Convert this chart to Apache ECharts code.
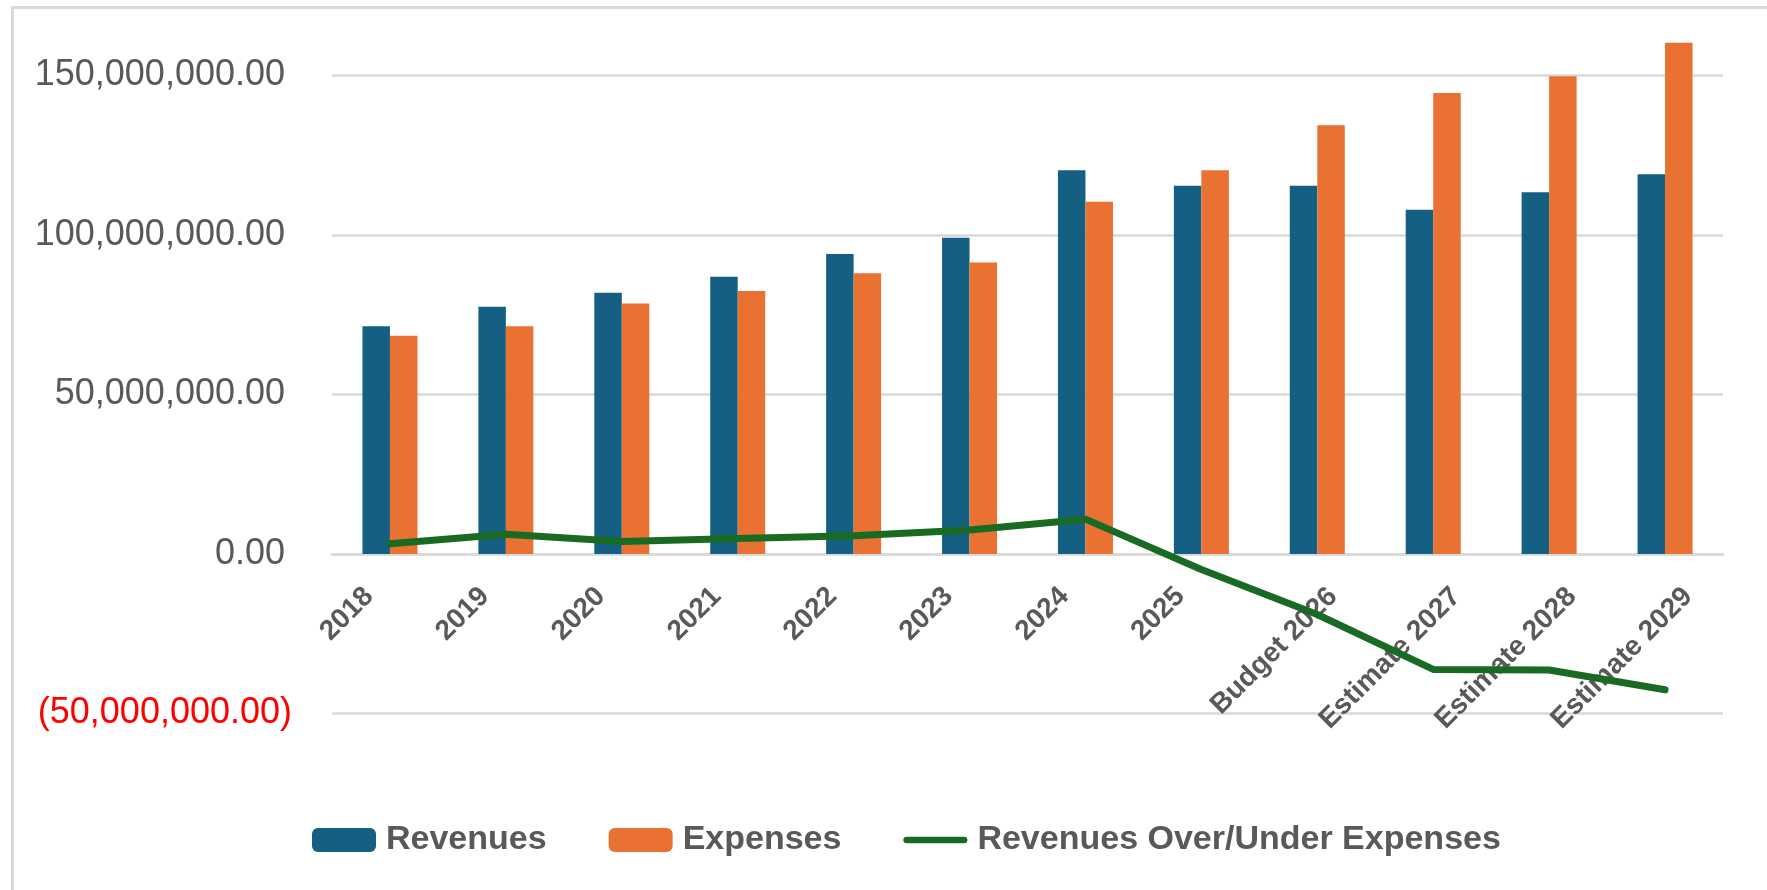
<!DOCTYPE html>
<html>
<head>
<meta charset="utf-8">
<script src="https://cdn.jsdelivr.net/npm/echarts@6/dist/echarts.min.js"></script>
<style>
  * { margin: 0; padding: 0; }
  body { background: #fff; }
  #mychart { width: 1767px; height: 890px; }
  #frame {
    position: absolute; left: 11px; top: 6px; width: 1800px; height: 900px;
    border-left: 3px solid #d9d9d9; border-top: 3px solid #d9d9d9;
    pointer-events: none;
  }
</style>
</head>
<body>
<div id="mychart"></div>
<div id="frame"></div>
<script>
const categories = ["2018", "2019", "2020", "2021", "2022", "2023", "2024", "2025",
  "Budget 2026", "Estimate 2027", "Estimate 2028", "Estimate 2029"]
const revenues = [71400000, 77500000, 81900000, 86900000, 94000000, 99100000,
  120300000, 115400000, 115400000, 107900000, 113400000, 119000000]
const expenses = [68400000, 71400000, 78500000, 82400000, 88000000, 91400000,
  110400000, 120300000, 134400000, 144500000, 149800000, 160300000]
const overUnder = [3200000, 6200000, 3900000, 4800000, 5700000, 7500000,
  10900000, -4900000, -19000000, -36200000, -36400000, -42600000]
const yTicks = [-50000000, 0, 50000000, 100000000, 150000000]

const font = '"Liberation Sans", Arial, sans-serif'
const lineIcon = 'path://M3.5,0 L66.5,0 A3.5,3.5 0 0 1 66.5,7 L3.5,7 A3.5,3.5 0 0 1 3.5,0 Z'
const catFontSize = 28

function fmt(v) {
  const s = Math.abs(v).toLocaleString('en-US', {minimumFractionDigits: 2, maximumFractionDigits: 2})
  return v < 0 ? '{neg|(' + s + ')}' : '{pos|' + s + '}'
}

// Excel keeps the top of every slanted label on one line and its box centred a bit left
// of the category; shift each label (centre aligned) with padding to get the same.
const labelMargin = 0
const measure = document.createElement('canvas').getContext('2d')
measure.font = 'bold ' + catFontSize + 'px ' + font
const catRich = {}
categories.forEach(function (c, i) {
  const L = measure.measureText(c).width
  const dx = -43
  const dy = 37.6 - labelMargin + 0.354 * L
  const s = 0.707 * (dx - dy)
  const q = 0.707 * (dx + dy)
  catRich['c' + i] = {
    fontFamily: font,
    fontSize: catFontSize,
    fontWeight: 'bold',
    color: '#595959',
    padding: [q > 0 ? 2 * q : 0, s < 0 ? -2 * s : 0, q < 0 ? -2 * q : 0, s > 0 ? 2 * s : 0]
  }
})

var chart = echarts.init(document.getElementById("mychart"))
// zero line sits 158.9px above the bottom of the grid, labels hang off it
const zeroOffset = -158.9
const option = {
  animation: false,
  textStyle: { fontFamily: font },
  grid: {
    left: 332,
    right: 44,
    top: 75.5,
    bottom: 176.6,
    containLabel: false,
    outerBoundsMode: 'none'
  },
  legend: {
    data: [
      { name: 'Revenues' },
      { name: 'Expenses' },
      { name: 'Revenues Over/Under Expenses', icon: lineIcon }
    ],
    left: 312,
    top: 823,
    padding: 0,
    itemWidth: 64,
    itemHeight: 24,
    itemGap: 62,
    textStyle: {
      fontFamily: font,
      fontSize: 34,
      fontWeight: 'bold',
      color: '#595959',
      padding: [0, 0, 0, 5]
    }
  },
  xAxis: {
    type: 'category',
    data: categories,
    offset: zeroOffset,
    axisTick: { show: false },
    axisLine: { onZero: false, lineStyle: { color: '#d9d9d9', width: 2.5 } },
    axisLabel: {
      rotate: 45,
      interval: 0,
      align: 'center',
      verticalAlign: 'middle',
      margin: labelMargin,
      hideOverlap: false,
      formatter: function (v, i) { return '{c' + i + '|' + v + '}' },
      rich: catRich
    }
  },
  yAxis: {
    type: 'value',
    min: yTicks[0],
    max: yTicks[yTicks.length - 1],
    interval: 50000000,
    axisLine: { show: false },
    axisTick: { show: false },
    splitLine: { lineStyle: { color: '#d9d9d9', width: 2.5 } },
    axisLabel: {
      margin: 40,
      formatter: fmt,
      rich: {
        pos: { fontFamily: font, fontSize: 36, color: '#595959', padding: [0, 7, 0, 0] },
        neg: { fontFamily: font, fontSize: 36, color: '#ff0000' }
      }
    }
  },
  series: [
    {
      name: 'Revenues',
      type: 'bar',
      barWidth: 27.5,
      barGap: '0%',
      clip: false,
      itemStyle: { color: '#156082' },
      data: revenues
    },
    {
      name: 'Expenses',
      type: 'bar',
      barWidth: 27.5,
      barGap: '0%',
      clip: false,
      itemStyle: { color: '#e97132' },
      data: expenses
    },
    {
      name: 'Revenues Over/Under Expenses',
      type: 'line',
      symbol: 'none',
      showSymbol: false,
      z: 5,
      lineStyle: { color: '#196b24', width: 7, cap: 'round', join: 'round' },
      itemStyle: { color: '#196b24' },
      data: overUnder
    }
  ]
}
chart.setOption(option)
window.addEventListener("resize", function () {
  chart.resize()
})
</script>
</body>
</html>
